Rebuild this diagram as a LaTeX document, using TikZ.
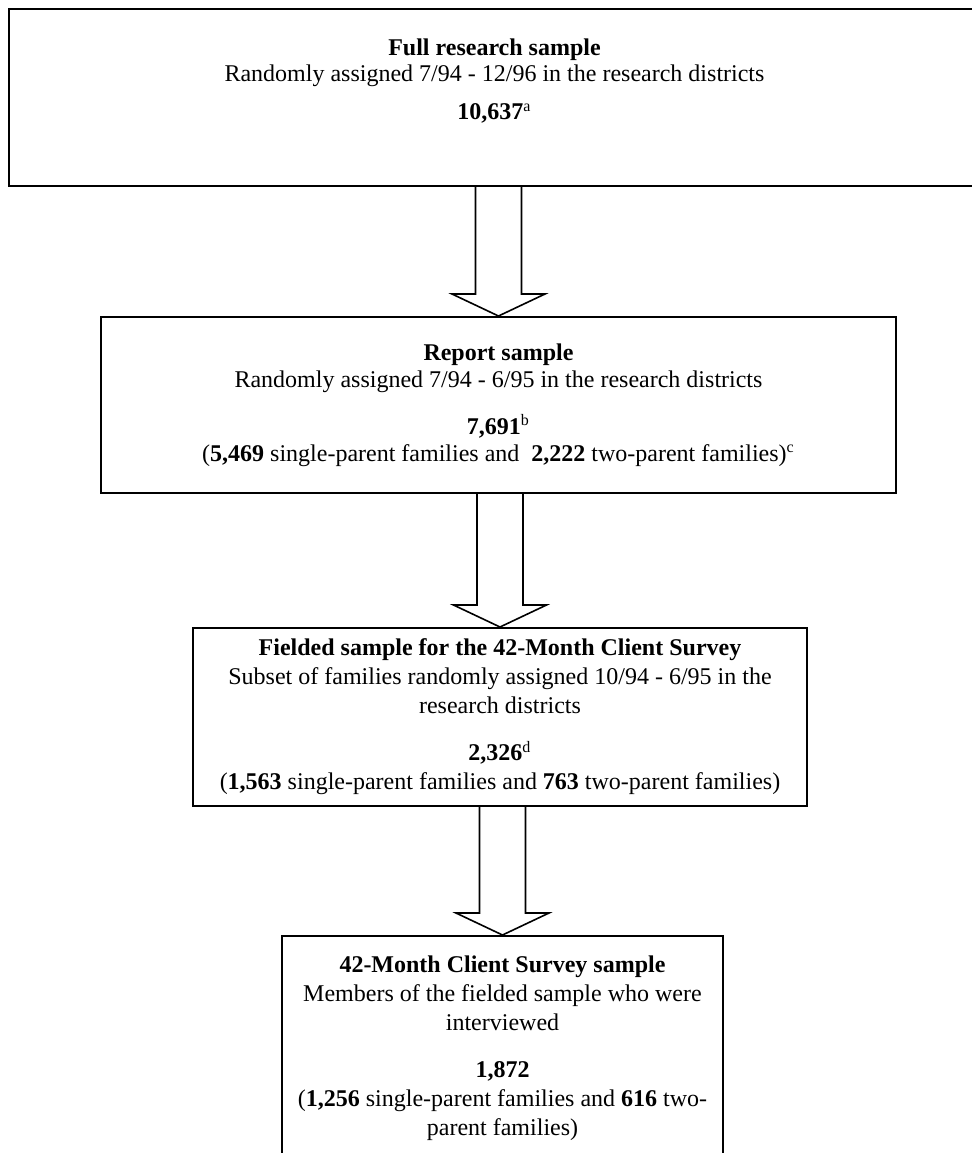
\documentclass[tikz,border=0pt]{standalone}
\usepackage{fontspec}
\setmainfont{Liberation Serif}
\usetikzlibrary{calc}

\begin{document}
\begin{tikzpicture}[x=0.5pt,y=-0.5pt]

      \useasboundingbox (0,0) rectangle (972,1153);

      \begin{scope}[every node/.style={draw, line width=1pt, anchor=north, align=center,
                    font=\fontsize{12}{14.5}\selectfont}]
        \node[minimum width=485.5pt, minimum height=88.5pt, font=\fontsize{12}{13}\selectfont]
          (full) at (494.5,8)
          {\textbf{Full research sample}\\
           Randomly assigned 7/94 - 12/96 in the research districts\\[6pt]
           \textbf{10,637}\textsuperscript{a}\rule[-18pt]{0pt}{18pt}};
        \node[minimum width=397.5pt, minimum height=88pt, font=\fontsize{12}{13.5}\selectfont]
          (report) at (498.5,316)
          {\textbf{Report sample}\\
           Randomly assigned 7/94 - 6/95 in the research districts\\[10pt]
           \textbf{7,691}\textsuperscript{b}\\
           (\textbf{5,469} single-parent families and \ \textbf{2,222} two-parent families)\textsuperscript{c}};
        \node[minimum width=307pt, minimum height=89pt] (fielded) at (500,627)
          {\textbf{Fielded sample for the 42-Month Client Survey}\\
           Subset of families randomly assigned 10/94 - 6/95 in the\\
           research districts\\[9pt]
           \textbf{2,326}\textsuperscript{d}\\
           (\textbf{1,563} single-parent families and \textbf{763} two-parent families)};
        \node[minimum width=220.5pt, minimum height=112pt] (survey) at (502.5,935)
          {\textbf{42-Month Client Survey sample}\\
           Members of the fielded sample who were\\
           interviewed\\[9pt]
           \textbf{1,872}\\
           (\textbf{1,256} single-parent families and \textbf{616} two-\\
           parent families)};
      \end{scope}

      % hollow block arrows between the boxes
      \begin{scope}[line width=0.8pt, line join=miter]
        \foreach \a/\b in {full/report, report/fielded, fielded/survey} {
          \coordinate (s) at (\b.north |- \a.south);
          \draw ($(s)+(-11.5pt,0)$) -- ($(\b.north)+(-11.5pt,11pt)$)
            -- ($(\b.north)+(-23.25pt,11pt)$) -- (\b.north)
            -- ($(\b.north)+(23.25pt,11pt)$) -- ($(\b.north)+(11.5pt,11pt)$)
            -- ($(s)+(11.5pt,0)$);
        }
      \end{scope}

    \end{tikzpicture}
\end{document}
